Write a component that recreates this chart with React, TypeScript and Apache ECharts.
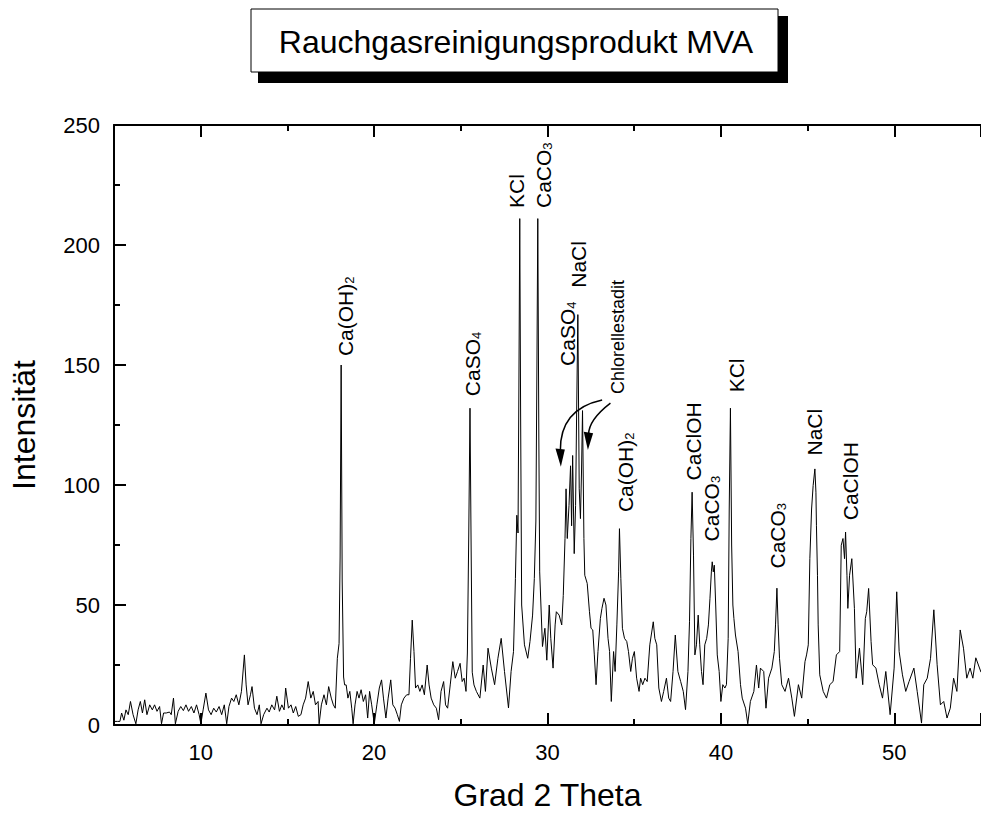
import React, { useEffect, useRef } from 'react';
import * as echarts from 'echarts';

// 2θ positions (degrees) and intensities
const twoTheta = [
  5.00, 5.06, 5.20, 5.34, 5.44, 5.57, 5.69, 5.82, 5.95, 6.10, 6.26, 6.39, 6.52, 6.64, 6.77, 6.90, 7.06, 7.21, 7.34, 7.48,
  7.63, 7.74, 7.86, 8.01, 8.20, 8.30, 8.43, 8.54, 8.70, 8.85, 9.00, 9.15, 9.30, 9.46, 9.61, 9.76, 9.91, 10.01, 10.14, 10.30,
  10.45, 10.60, 10.75, 10.90, 11.06, 11.21, 11.36, 11.50, 11.63, 11.78, 11.91, 12.05, 12.20, 12.35, 12.52, 12.62, 12.73, 12.87, 12.96, 13.10,
  13.25, 13.38, 13.48, 13.63, 13.82, 13.95, 14.10, 14.26, 14.39, 14.54, 14.68, 14.81, 14.90, 15.06, 15.21, 15.34, 15.48, 15.63, 15.78, 15.91,
  16.05, 16.20, 16.35, 16.49, 16.62, 16.77, 16.83, 16.96, 17.11, 17.25, 17.38, 17.53, 17.65, 17.76, 17.88, 17.98, 18.04, 18.10, 18.16, 18.24,
  18.30, 18.39, 18.49, 18.60, 18.71, 18.79, 18.90, 19.02, 19.13, 19.25, 19.38, 19.51, 19.63, 19.74, 19.86, 20.01, 20.16, 20.30, 20.43, 20.54,
  20.68, 20.81, 20.96, 21.08, 21.21, 21.34, 21.46, 21.57, 21.72, 21.88, 22.01, 22.10, 22.20, 22.30, 22.39, 22.52, 22.64, 22.77, 22.90, 23.06,
  23.17, 23.29, 23.44, 23.59, 23.72, 23.86, 24.01, 24.12, 24.24, 24.39, 24.54, 24.68, 24.81, 24.96, 25.08, 25.19, 25.30, 25.38, 25.46, 25.53,
  25.60, 25.66, 25.76, 25.90, 26.10, 26.29, 26.42, 26.57, 26.76, 26.95, 27.14, 27.33, 27.52, 27.75, 27.90, 28.04, 28.15, 28.23, 28.30, 28.35,
  28.40, 28.45, 28.51, 28.67, 28.86, 28.99, 29.14, 29.24, 29.33, 29.39, 29.44, 29.50, 29.55, 29.62, 29.71, 29.85, 29.96, 30.10, 30.19, 30.32,
  30.44, 30.51, 30.67, 30.82, 30.91, 31.01, 31.07, 31.14, 31.24, 31.33, 31.39, 31.45, 31.54, 31.62, 31.68, 31.75, 31.83, 31.90, 31.96, 32.02,
  32.10, 32.15, 32.29, 32.42, 32.51, 32.61, 32.70, 32.80, 32.91, 33.05, 33.14, 33.26, 33.37, 33.49, 33.58, 33.68, 33.81, 33.90, 34.00, 34.10,
  34.15, 34.23, 34.32, 34.44, 34.57, 34.67, 34.80, 34.90, 35.01, 35.14, 35.28, 35.37, 35.49, 35.62, 35.75, 35.90, 36.10, 36.19, 36.30, 36.42,
  36.57, 36.70, 36.86, 36.99, 37.10, 37.24, 37.37, 37.52, 37.68, 37.83, 37.96, 38.10, 38.19, 38.27, 38.34, 38.42, 38.50, 38.59, 38.69, 38.78,
  38.88, 38.97, 39.07, 39.18, 39.28, 39.37, 39.45, 39.50, 39.56, 39.62, 39.70, 39.79, 39.90, 40.00, 40.11, 40.23, 40.32, 40.42, 40.48, 40.55,
  40.62, 40.69, 40.75, 40.84, 40.99, 41.13, 41.23, 41.42, 41.55, 41.70, 41.90, 42.05, 42.18, 42.28, 42.47, 42.60, 42.75, 42.94, 43.08, 43.15,
  43.23, 43.30, 43.38, 43.51, 43.70, 43.90, 44.09, 44.24, 44.47, 44.66, 44.85, 44.94, 45.04, 45.13, 45.23, 45.32, 45.42, 45.48, 45.51, 45.57,
  45.61, 45.70, 45.90, 46.09, 46.28, 46.47, 46.66, 46.85, 46.94, 47.04, 47.13, 47.19, 47.27, 47.32, 47.42, 47.55, 47.70, 47.80, 47.99, 48.18,
  48.33, 48.41, 48.52, 48.66, 48.75, 48.94, 49.13, 49.32, 49.51, 49.76, 49.99, 50.14, 50.28, 50.47, 50.66, 50.85, 51.13, 51.32, 51.57, 51.70,
  51.90, 52.09, 52.28, 52.47, 52.66, 52.85, 53.04, 53.23, 53.42, 53.61, 53.80, 53.99, 54.18, 54.37, 54.53, 54.70, 55.00
];

const intensity = [
  1, 1.5, 1.5, 1.5, 5, 2, 6.3, 4.3, 9.8, 4.3, 0.5, 6.3, 9.8, 5, 10.5, 4.3, 8.4, 6.3, 8.4, 5.7,
  7.7, 0.5, 5, 5, 5.4, 4.3, 11.2, 0.5, 5.7, 7.7, 6, 8.4, 5.7, 7.7, 5, 8.4, 4.3, 0.5, 6.3, 13.3,
  6.3, 4.3, 7, 5.4, 7.7, 4.3, 8.4, 0.5, 7.7, 11.2, 9.8, 12.6, 8.4, 14, 29.2, 16.7, 8.4, 12.6, 16, 7,
  4.3, 8.4, 0.5, 4.3, 7, 5.4, 8.4, 6.3, 12, 5.7, 8.4, 6.3, 15.4, 7, 8.4, 5, 7.7, 3.6, 4.3, 8.4,
  11.2, 18.1, 11.2, 14, 8.4, 9.8, 0.5, 8.4, 12.6, 8.4, 16, 11.2, 8.4, 7, 27.8, 34, 70, 150, 60, 20,
  16.7, 16.7, 11.2, 14, 7, 0.5, 8.4, 14, 11.2, 14.7, 9.8, 12.6, 2.9, 14, 8.4, 0.5, 8.4, 15.4, 18.8, 11.2,
  2.9, 11.2, 18.8, 8.4, 7, 4.3, 1.5, 8.4, 11.2, 12.6, 12.6, 27.8, 43.7, 30.6, 15.4, 16.7, 14, 16.7, 12.6, 25,
  16.7, 11.2, 8.4, 7, 2.2, 14, 18.1, 8.4, 7, 16.7, 26.4, 19.5, 22.3, 25.7, 18.1, 19.5, 14, 30, 80, 132,
  70, 22, 16.7, 14, 11.2, 25, 14, 32, 23.7, 16.8, 27.8, 36.1, 22.3, 7.1, 22.3, 30.6, 61, 87.4, 80, 140,
  211, 130, 50, 33.4, 27.8, 34.8, 45.8, 61, 85, 150, 211, 120, 63.8, 50, 32.7, 40.3, 27, 50, 36.1, 23.7,
  41.7, 47.2, 45.8, 41.7, 54, 77.7, 98.4, 77.7, 91.5, 108, 83, 112.3, 71.4, 91.5, 130, 171, 98.4, 86, 105, 131,
  77.7, 62.4, 59, 47.2, 40.3, 39.6, 29.2, 16.8, 30.6, 44.4, 48.6, 52.8, 50, 36.1, 30.6, 9.8, 30.6, 22.3, 41.7, 63.8,
  81.8, 61, 40.3, 36.1, 34.8, 30.6, 22.3, 27.8, 30.6, 19.5, 14, 19.5, 16.8, 19.5, 18.1, 33.4, 43, 36.1, 33.4, 15.4,
  9.8, 14, 19.5, 11.2, 9.8, 22.3, 37.5, 22.3, 18.1, 14, 6.4, 22.3, 43, 77.7, 97, 70.8, 29.2, 33.4, 45.8, 33.4,
  22.3, 16.8, 33.4, 36.1, 41.7, 52.8, 63.8, 68, 63.8, 66.6, 50, 29.2, 22.3, 9.8, 16.8, 15.4, 16.8, 36.1, 90, 132,
  75, 50, 44.4, 37.5, 30.6, 16.8, 11.2, 7, 0.5, 9.8, 14, 25, 15.4, 23.7, 22.3, 7, 19.5, 23.7, 30.6, 41.7,
  57, 41.7, 27.8, 16.8, 14, 19.5, 11.2, 3.6, 16.8, 11.2, 26.4, 29.2, 33.4, 69.3, 90, 99.8, 106.7, 97, 83, 62.4,
  41.7, 20.9, 14, 11.2, 16.8, 18.1, 29.2, 30.6, 74.9, 77.7, 69.3, 80.4, 62.4, 48.6, 62.4, 69.3, 48.6, 19.5, 32, 16.8,
  44.4, 47.2, 56.9, 34.8, 25.1, 23.7, 16.8, 11.2, 22.3, 4.3, 23.7, 55.5, 30.6, 20.9, 14, 18.1, 23.7, 14, 0.8, 16.8,
  19.5, 27.8, 48, 25.1, 8.4, 9.8, 2.9, 7, 19.5, 14, 39.6, 32, 19.5, 23.7, 19.5, 28, 22
];

// Phase annotations: main text, subscript, left edge (2θ) and lower end (intensity)
const peakNames = ['Ca(OH)', 'CaSO', 'KCl', 'CaCO', 'CaSO', 'NaCl', 'Ca(OH)', 'CaClOH', 'CaCO', 'KCl', 'CaCO', 'NaCl', 'CaClOH'];
const peakSubs = ['2', '4', '', '3', '4', '', '2', '', '3', '', '3', '', ''];
const peakLabelTheta = [17.74, 25.06, 27.63, 29.14, 30.57, 31.17, 33.91, 37.8, 38.86, 40.29, 42.66, 44.77, 46.86];
const peakLabelBase = [153.7, 137, 215.4, 215.4, 149.6, 182.2, 88.7, 101.9, 76.5, 138.6, 65.2, 112.3, 85.3];

const noteText = 'Chlorellestadit';
const noteTheta = 33.53;
const noteBase = 137.9;

// Curved arrows (start, control, end, arrow-head left, arrow-head right, tip) in data coordinates
const arrows = [
  [[33.15, 135.4], [30.71, 131.6], [30.74, 114.2], [30.46, 115.2], [31.0, 114.8], [30.77, 107.6]],
  [[33.63, 134.1], [32.37, 127.1], [32.37, 121.0], [32.09, 122.2], [32.63, 121.6], [32.33, 114.6]]
];

const titleText = 'Rauchgasreinigungsprodukt MVA';
const xName = 'Grad 2 Theta';
const yName = 'Intensität';

const FONT = 'Liberation Sans, Arial, sans-serif';

export default function App() {
  const ref = useRef<HTMLDivElement>(null);

  useEffect(() => {
    document.body.style.margin = '0';
    const chart = echarts.init(ref.current as HTMLDivElement, null, { renderer: 'svg' });

    const lineStyle = { color: '#000', width: 2 };
    const xCommon = {
      type: 'value' as const,
      min: 5,
      max: 55,
      minInterval: 10,
      maxInterval: 10,
      splitLine: { show: false },
      axisLine: { show: true, onZero: false, lineStyle },
      axisTick: { show: true, inside: true, length: 12, lineStyle },
      minorTick: { show: true, splitNumber: 2, length: 6, lineStyle },
    };

    chart.setOption({
      animation: false,
      backgroundColor: '#ffffff',
      grid: { left: 114, top: 125, width: 875, height: 602, containLabel: false },
      xAxis: [
        {
          ...xCommon,
          position: 'bottom',
          name: xName,
          nameLocation: 'middle',
          nameGap: 54,
          nameTextStyle: { fontSize: 32, fontFamily: FONT, color: '#000' },
          axisLabel: {
            fontSize: 22,
            fontFamily: FONT,
            color: '#000',
            margin: 16,
            showMinLabel: false,
            showMaxLabel: false,
          },
        },
        {
          ...xCommon,
          position: 'top',
          axisLabel: { show: false },
        },
      ],
      yAxis: {
        type: 'value',
        min: 0,
        max: 250,
        interval: 50,
        name: yName,
        nameLocation: 'middle',
        nameGap: 74,
        nameTextStyle: { fontSize: 32, fontFamily: FONT, color: '#000' },
        splitLine: { show: false },
        axisLine: { show: true, lineStyle },
        axisTick: { show: true, inside: true, length: 12, lineStyle },
        minorTick: { show: true, splitNumber: 2, length: 6, lineStyle },
        axisLabel: { fontSize: 22, fontFamily: FONT, color: '#000', margin: 14 },
      },
      series: [
        {
          type: 'line',
          data: twoTheta.map((t, i) => [t, intensity[i]]),
          symbol: 'none',
          lineStyle: { color: '#000', width: 1 },
          clip: true,
          silent: true,
        },
      ],
    });

    const toPx = (p: number[]) =>
      chart.convertToPixel({ xAxisIndex: 0, yAxisIndex: 0 }, p) as number[];

    const rich = {
      m: { fontSize: 21, fontFamily: FONT, color: '#000', lineHeight: 21, verticalAlign: 'top', padding: [0, 0, 8, 0] },
      s: { fontSize: 13, fontFamily: FONT, color: '#000', lineHeight: 13, verticalAlign: 'bottom' },
      c: { fontSize: 18, fontFamily: FONT, color: '#000', lineHeight: 18, verticalAlign: 'top' },
    };

    const elements: any[] = [];

    // title box with drop shadow
    elements.push({
      type: 'rect',
      shape: { x: 258, y: 16, width: 530, height: 67 },
      style: { fill: '#000' },
    });
    elements.push({
      type: 'rect',
      shape: { x: 251, y: 9, width: 527, height: 63 },
      style: { fill: '#fff', stroke: '#000', lineWidth: 1 },
    });
    elements.push({
      type: 'text',
      x: 516,
      y: 41.5,
      style: {
        text: titleText,
        fontSize: 32,
        fontFamily: FONT,
        fill: '#000',
        align: 'center',
        verticalAlign: 'middle',
        textAlign: 'center',
        textVerticalAlign: 'middle',
      },
    });

    peakNames.forEach((name, i) => {
      const [px, py] = toPx([peakLabelTheta[i], peakLabelBase[i]]);
      const sub = peakSubs[i] ? `{s|${peakSubs[i]}}` : '';
      elements.push({
        type: 'text',
        x: px,
        y: py,
        rotation: Math.PI / 2,
        style: {
          text: `{m|${name}}${sub}`,
          rich,
          fill: '#000',
          align: 'left',
          verticalAlign: 'top',
          textAlign: 'left',
          textVerticalAlign: 'top',
        },
      });
    });

    {
      const [px, py] = toPx([noteTheta, noteBase]);
      elements.push({
        type: 'text',
        x: px,
        y: py,
        rotation: Math.PI / 2,
        style: {
          text: `{c|${noteText}}`,
          rich,
          fill: '#000',
          align: 'left',
          verticalAlign: 'top',
          textAlign: 'left',
          textVerticalAlign: 'top',
        },
      });
    }

    arrows.forEach((a) => {
      const [s, c, e, hl, hr, tip] = a.map(toPx);
      elements.push({
        type: 'bezierCurve',
        shape: { x1: s[0], y1: s[1], cpx1: c[0], cpy1: c[1], x2: e[0], y2: e[1] },
        style: { stroke: '#000', lineWidth: 1.5, fill: 'none' },
      });
      elements.push({
        type: 'polygon',
        shape: { points: [hl, hr, tip] },
        style: { fill: '#000' },
      });
    });

    chart.setOption({ graphic: { elements } });

    return () => {
      chart.dispose();
    };
  }, []);

  return (
    <div
      ref={ref}
      style={{ position: 'absolute', left: 0, top: 0, width: 981, height: 816 }}
    />
  );
}
